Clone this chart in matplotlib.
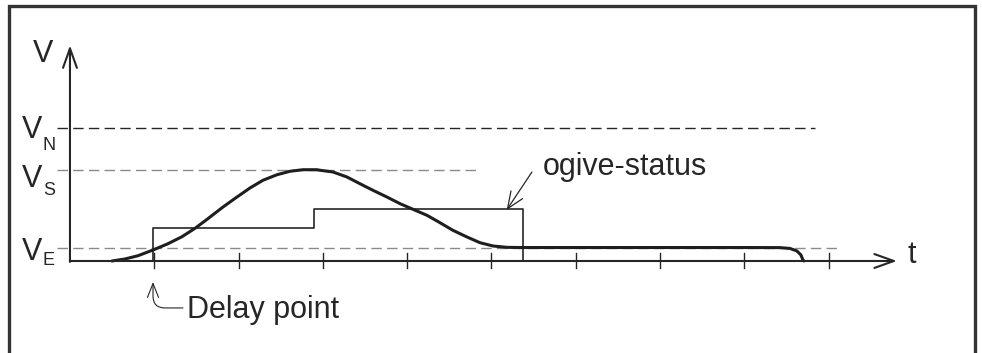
import numpy as np
import matplotlib
matplotlib.use("Agg")
import matplotlib.pyplot as plt
from matplotlib.patches import Rectangle

plt.rcParams['font.family'] = ['Liberation Sans', 'DejaVu Sans']

# levels (in units of V_S) and time in tick units
V_E = 0.143
V_S = 1.0
V_N = 1.46
ticks_t = [1, 2, 3, 4, 5, 6, 7, 8, 9]
t_delay = 0.985

# ogive-status step function
step_t = [0.985, 0.985, 2.894, 5.374]
step_v = [0.0, 0.363, 0.571, 0.0]

# speed curve
curve_t = [0.498, 0.652, 0.807, 0.985, 1.163, 1.329, 1.483, 1.601, 1.720, 1.815,
           1.981, 2.135, 2.289, 2.456, 2.610, 2.764, 2.930, 2.966, 3.120, 3.286,
           3.440, 3.594, 3.760, 3.915, 4.069, 4.235, 4.389, 4.543, 4.709, 4.864,
           5.018, 5.184, 5.338, 6.0, 7.0, 8.0, 8.42, 8.541, 8.624, 8.671, 8.695, 8.707]
curve_v = [0.0, 0.022, 0.058, 0.121, 0.190, 0.267, 0.359, 0.440, 0.525, 0.593,
           0.703, 0.802, 0.887, 0.948, 0.986, 1.003, 1.003, 0.997, 0.978, 0.923,
           0.849, 0.777, 0.703, 0.630, 0.568, 0.502, 0.421, 0.337, 0.264, 0.201,
           0.165, 0.150, 0.148, 0.148, 0.148, 0.148, 0.147, 0.138, 0.110, 0.066, 0.011, 0.0]

dark = '#262626'
grey = '#8a8a8a'

fig = plt.figure(figsize=(9.82, 3.53), dpi=100)
ax = fig.add_axes([0, 0, 1, 1])
ax.set_xlim(-0.830, 10.819)
ax.set_ylim(-1.011, 2.868)
ax.axis('off')

# frame round the drawing
fig.patches.append(Rectangle((0.0092, -0.1), 0.9837, 1.083, transform=fig.transFigure,
                             fill=False, lw=2.4, edgecolor='#333333'))

# reference levels
dash = dict(lw=1.0, dashes=(7.5, 3.8))
ax.plot([-0.154, 8.84], [V_N, V_N], color=dark, **dash)
ax.plot([-0.154, 4.86], [V_S, V_S], color=grey, **dash)
ax.plot([-0.154, 9.14], [V_E, V_E], color=grey, **dash)

# axes with open arrow heads
arr = dict(arrowstyle='->,head_length=0.7,head_width=0.25', lw=1.5, color=dark,
           shrinkA=0, shrinkB=0, mutation_scale=20)
ax.annotate('', xy=(9.81, 0), xytext=(0, 0), arrowprops=arr)
ax.annotate('', xy=(0, 2.37), xytext=(0, -0.01), arrowprops=arr)

for t in ticks_t:
    ax.plot([t, t], [-0.08, 0.09], color=dark, lw=1.0)

# step function and curve
ax.plot(step_t, step_v, color=dark, lw=1.2, drawstyle='steps-post')
ax.plot(curve_t, curve_v, color='#1e1e1e', lw=2.2, solid_capstyle='round',
        solid_joinstyle='round')

# labels
fs = 22
ax.text(9.94, -0.022, 't', fontsize=fs, color=dark, va='baseline')
ax.text(-0.44, 2.19, 'V', fontsize=fs, color=dark, va='baseline')
for name, base, sub_base in [('N', 1.352, 1.22), ('S', 0.813, 0.725), ('E', 0.011, -0.044)]:
    ax.text(-0.57, base, 'V', fontsize=fs, color=dark, va='baseline')
    ax.text(-0.32, sub_base, name, fontsize=13, color=dark, va='baseline')

ax.text(5.61, 0.945, 'ogive-status', fontsize=fs, color=dark, va='baseline')
ax.annotate('', xy=(5.18, 0.56), xytext=(5.48, 0.978),
            arrowprops=dict(arrowstyle='->,head_length=0.6,head_width=0.25', lw=0.9,
                            color=dark, shrinkA=0, shrinkB=0, mutation_scale=20))

ax.text(1.388, -0.626, 'Delay point', fontsize=fs, color=dark, va='baseline')
ax.annotate('', xy=(t_delay, -0.231), xytext=(1.34, -0.516),
            arrowprops=dict(arrowstyle='->,head_length=0.5,head_width=0.2', lw=0.8,
                            color=dark, shrinkA=0, shrinkB=0, mutation_scale=20,
                            connectionstyle='angle,angleA=0,angleB=90,rad=12'))

fig.savefig('out.png', dpi=100)
